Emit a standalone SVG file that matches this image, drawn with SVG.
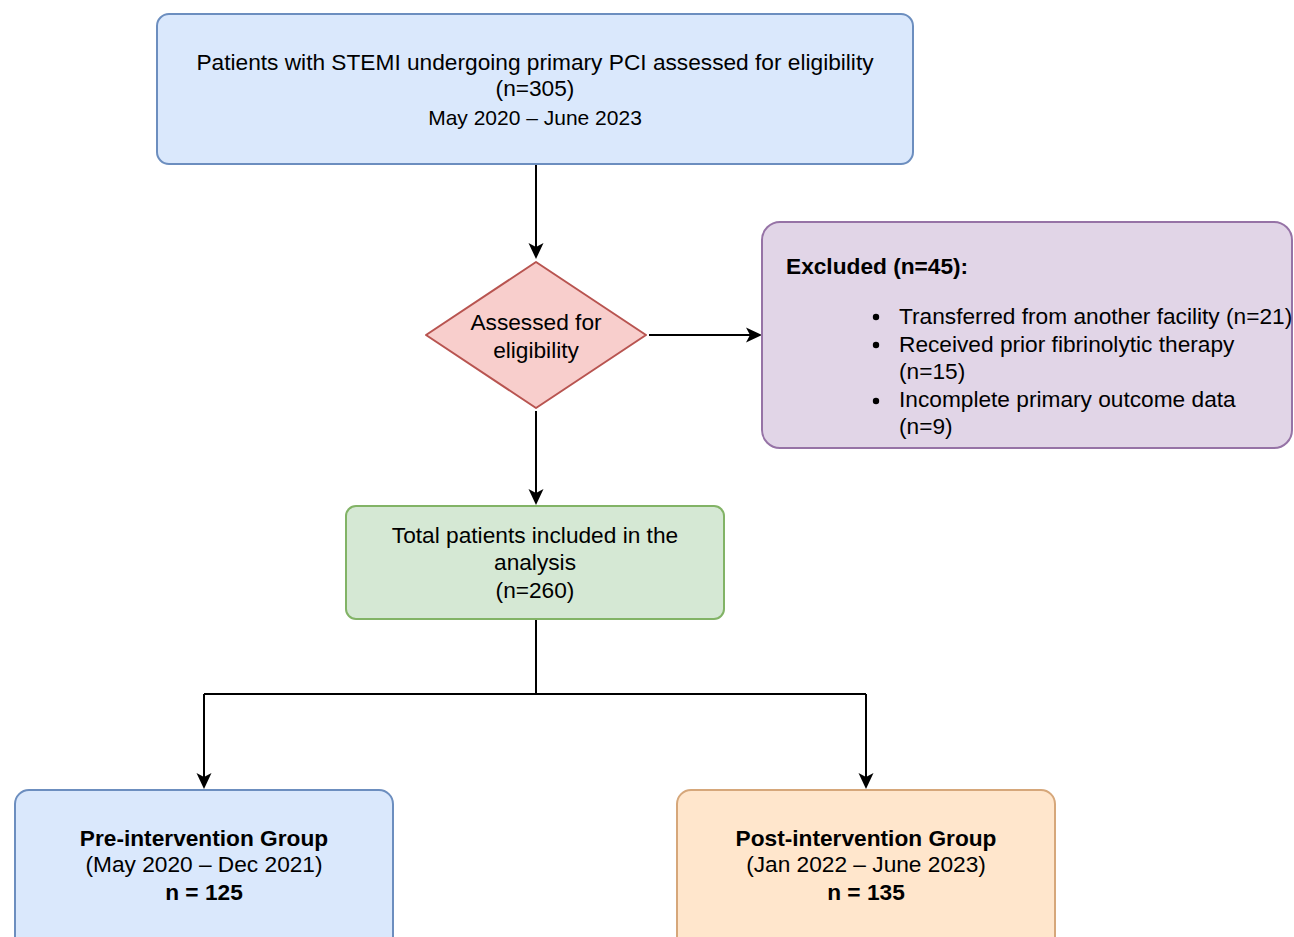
<svg xmlns="http://www.w3.org/2000/svg" width="1294" height="937" viewBox="0 0 1294 937">
<defs>
<style>
text{font-family:"Liberation Sans",Arial,sans-serif;font-size:22.7px;fill:#000}
.c{text-anchor:middle}
.b{font-weight:bold}
.ln{stroke:#000;stroke-width:2;fill:none}
.ah{fill:#000}
</style>
</defs>
<rect width="1294" height="937" fill="#fff"/>
<g id="connectors">
<path class="ln" d="M536,165 V256"/>
<path class="ah" d="M528.5,243 L536,259 L543.5,243 L536,247 z"/>
<path class="ln" d="M649,335 H758"/>
<path class="ah" d="M746,327.5 L762,335 L746,342.5 L750,335 z"/>
<path class="ln" d="M536,411 V501"/>
<path class="ah" d="M528.5,489 L536,505 L543.5,489 L536,493 z"/>
<path class="ln" d="M536,619 V694 M204,694 H866 M204,694 V785 M866,694 V785"/>
<path class="ah" d="M196.5,773 L204,789 L211.5,773 L204,777 z"/>
<path class="ah" d="M858.5,773 L866,789 L873.5,773 L866,777 z"/>
</g>
<g id="n-start">
<rect x="157" y="14" width="756" height="150" rx="12" fill="#dae8fc" stroke="#6c8ebf" stroke-width="2"/>
<text class="c" x="535" y="70">Patients with STEMI undergoing primary PCI assessed for eligibility</text>
<text class="c" x="535" y="96">(n=305)</text>
<text class="c" x="535" y="125" style="font-size:21px">May 2020 – June 2023</text>
</g>
<g id="n-assess">
<path d="M536,262 L646,335 L536,408 L426,335 Z" fill="#f8cecc" stroke="#b85450" stroke-width="2" stroke-linejoin="round"/>
<text class="c" x="536" y="330">Assessed for</text>
<text class="c" x="536" y="358">eligibility</text>
</g>
<g id="n-excluded">
<rect x="762" y="222" width="530" height="226" rx="18" fill="#e1d5e7" stroke="#9673a6" stroke-width="2"/>
<text class="b" x="786" y="274">Excluded (n=45):</text>
<circle cx="876" cy="317" r="3.2" fill="#000"/>
<circle cx="876" cy="345" r="3.2" fill="#000"/>
<circle cx="876" cy="401" r="3.2" fill="#000"/>
<text x="899" y="324">Transferred from another facility (n=21)</text>
<text x="899" y="352">Received prior fibrinolytic therapy</text>
<text x="899" y="379">(n=15)</text>
<text x="899" y="407">Incomplete primary outcome data</text>
<text x="899" y="434">(n=9)</text>
</g>
<g id="n-total">
<rect x="346" y="506" width="378" height="113" rx="10" fill="#d5e8d4" stroke="#82b366" stroke-width="2"/>
<text class="c" x="535" y="543">Total patients included in the</text>
<text class="c" x="535" y="570">analysis</text>
<text class="c" x="535" y="598">(n=260)</text>
</g>
<g id="n-pre">
<rect x="15" y="790" width="378" height="160" rx="14" fill="#dae8fc" stroke="#6c8ebf" stroke-width="2"/>
<text class="c b" x="204" y="846">Pre-intervention Group</text>
<text class="c" x="204" y="872">(May 2020 – Dec 2021)</text>
<text class="c b" x="204" y="900">n = 125</text>
</g>
<g id="n-post">
<rect x="677" y="790" width="378" height="160" rx="14" fill="#ffe6cc" stroke="#d6a77a" stroke-width="2"/>
<text class="c b" x="866" y="846">Post-intervention Group</text>
<text class="c" x="866" y="872">(Jan 2022 – June 2023)</text>
<text class="c b" x="866" y="900">n = 135</text>
</g>
</svg>
